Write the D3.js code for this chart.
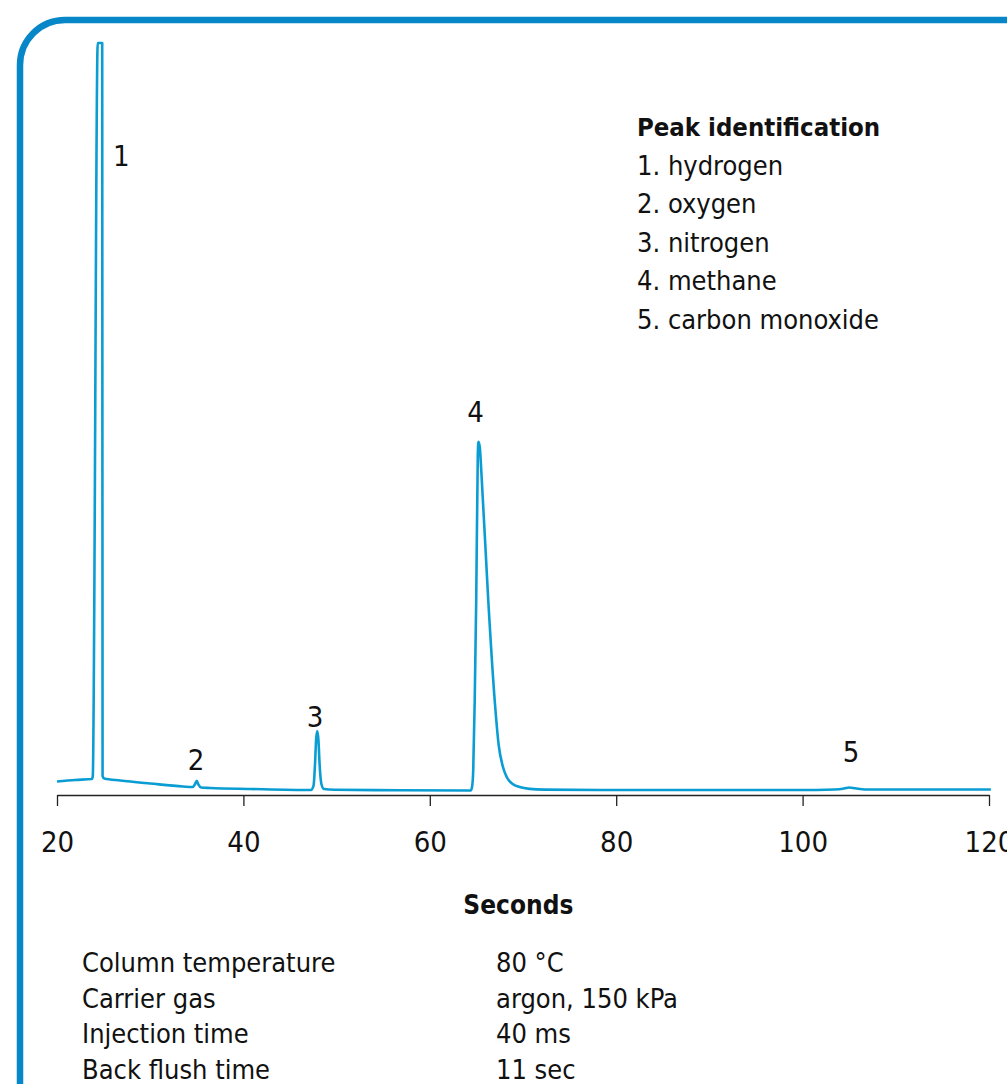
<!DOCTYPE html>
<html>
<head>
<meta charset="utf-8">
<script src="https://cdn.jsdelivr.net/npm/d3@7/dist/d3.min.js"></script>
<style>
  body { margin: 0; background: #fff; overflow: hidden; }
  svg { display: block; }
  text {
    font-family: "DejaVu Sans Condensed", "DejaVu Sans", sans-serif;
    font-stretch: condensed;
    fill: #111;
  }
  .frame { fill: none; stroke: #0787c7; stroke-width: 6.5; }
  .trace { fill: none; stroke: #0a9dd3; stroke-width: 2.6; stroke-linejoin: round; }
  .axis path, .axis line { stroke: #222; stroke-width: 1.3; }
  .axis text { font-size: 29px; }
  .peaklabel { font-size: 29px; text-anchor: middle; }
  .legend { font-size: 27px; }
  .legend-title { font-size: 25.5px; font-weight: bold; }
  .axistitle { font-size: 26px; font-weight: bold; text-anchor: middle; }
  .cond { font-size: 27px; }
</style>
</head>
<body>
<div id="chart"></div>
<script>
// DATA (time in s, detector signal in arbitrary units)
var TIMES = [20.00, 21.96, 23.75, 23.84, 24.37, 24.85, 24.89, 25.07, 26.78, 30.00,
  33.53, 34.55, 34.82, 35.00, 35.17, 35.46, 36.43, 40.71, 47.25, 47.52,
  47.68, 47.80, 47.92, 48.05, 48.18, 48.37, 48.64, 49.82, 56.78, 64.39,
  64.55, 64.66, 64.82, 64.98, 65.15, 65.22, 65.36, 65.52, 66.27, 66.96,
  67.39, 67.82, 68.25, 68.89, 69.64, 70.71, 72.32, 78.21, 88.92, 99.64,
  103.39, 104.46, 105.00, 105.64, 106.71, 110.36, 120.20];
var SIGNAL = [1.80, 2.00, 2.13, 2.53, 100, 100, 2.53, 2.19, 1.93, 1.53,
  1.13, 1.06, 1.46, 1.90, 1.40, 1.00, 0.93, 0.80, 0.66, 1.20,
  3.99, 7.31, 8.51, 7.31, 3.99, 1.46, 0.80, 0.69, 0.63, 0.60,
  1.20, 3.32, 12.63, 25.93, 45.21, 46.98, 46.28, 43.22, 25.93, 12.63,
  6.65, 3.86, 2.39, 1.46, 1.06, 0.82, 0.72, 0.66, 0.66, 0.66,
  0.73, 0.86, 1.00, 0.89, 0.73, 0.73, 0.73];

var TICKS = [20, 40, 60, 80, 100, 120];

var PEAK_NAMES = ["1", "2", "3", "4", "5"];
var PEAK_X = [26.9, 34.93, 47.68, 64.9, 105.2];   // label anchor (s)
var PEAK_Y = [83.6, 3.3, 9.0, 49.6, 4.4];         // label baseline (signal)

var LEGEND_TITLE = "Peak identification";
var LEGEND_ITEMS = ["1. hydrogen", "2. oxygen", "3. nitrogen", "4. methane", "5. carbon monoxide"];

var COND_LABELS = ["Column temperature", "Carrier gas", "Injection time", "Back flush time"];
var COND_VALUES = ["80 \u00B0C", "argon, 150 kPa", "40 ms", "11 sec"];

var data = TIMES.map(function(t, i) { return { t: t, v: SIGNAL[i] }; });

var W = 1007, H = 1084;
var margin = { top: 43, left: 57 };
var width = 932;   // 20 s .. 120 s
var height = 752;  // signal 0 .. 100

var svg = d3.select("#chart").append("svg")
    .attr("width", W)
    .attr("height", H);

// FRAME (runs off the right and bottom edge)
svg.append("rect")
    .attr("class", "frame")
    .attr("x", 20)
    .attr("y", 20)
    .attr("width", 1150)
    .attr("height", 1200)
    .attr("rx", 45)
    .attr("ry", 45);

var g = svg.append("g")
    .attr("transform", "translate(" + margin.left + "," + margin.top + ")");

//SCALES
var x = d3.scaleLinear().domain([20, 120]).range([0, width]);
var y = d3.scaleLinear().domain([0, 100]).range([height, 0]);

//AXIS
var gx = g.append("g")
    .attr("class", "axis")
    .attr("transform", "translate(0," + height + ")")
    .call(d3.axisBottom(x)
      .tickValues(TICKS)
      .tickSize(11)
      .tickSizeOuter(0)
      .tickPadding(0)
      .tickFormat(d3.format("d")));
gx.selectAll("text")
    .attr("y", 57)
    .attr("dy", 0);

g.append("text")
    .attr("class", "axistitle")
    .attr("x", x(69.5))
    .attr("y", height + 119)
    .text("Seconds");

//TRACE
var line = d3.line()
    .x(function(d) { return x(d.t); })
    .y(function(d) { return y(d.v); })
    .curve(d3.curveMonotoneX);

g.append("path")
    .datum(data)
    .attr("class", "trace")
    .attr("d", line);

//PEAK LABELS
g.selectAll(".peaklabel")
    .data(PEAK_NAMES)
    .enter().append("text")
    .attr("class", "peaklabel")
    .attr("x", function(d, i) { return x(PEAK_X[i]); })
    .attr("y", function(d, i) { return y(PEAK_Y[i]); })
    .text(function(d) { return d; });

//LEGEND
var legend = svg.append("g")
    .attr("transform", "translate(637,136)");

legend.append("text")
    .attr("class", "legend-title")
    .attr("x", 0)
    .attr("y", 0)
    .text(LEGEND_TITLE);

legend.selectAll(".legend")
    .data(LEGEND_ITEMS)
    .enter().append("text")
    .attr("class", "legend")
    .attr("x", 0)
    .attr("y", function(d, i) { return 38.5 * (i + 1); })
    .text(function(d) { return d; });

//CONDITIONS
var cond = svg.append("g")
    .attr("transform", "translate(82,972)");

cond.selectAll(".cond-label")
    .data(COND_LABELS)
    .enter().append("text")
    .attr("class", "cond")
    .attr("x", 0)
    .attr("y", function(d, i) { return i * 35.7; })
    .text(function(d) { return d; });

cond.selectAll(".cond-value")
    .data(COND_VALUES)
    .enter().append("text")
    .attr("class", "cond")
    .attr("x", 414)
    .attr("y", function(d, i) { return i * 35.7; })
    .text(function(d) { return d; });
</script>
</body>
</html>
